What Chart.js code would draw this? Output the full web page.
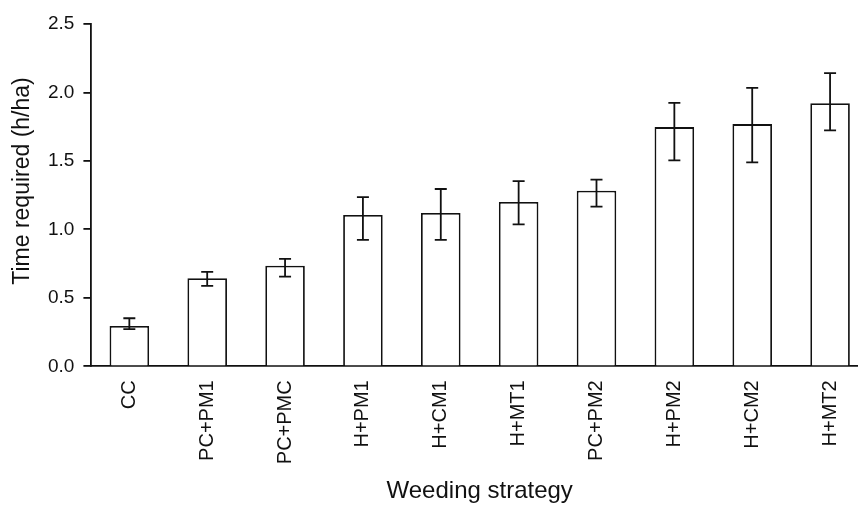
<!DOCTYPE html>
<html>
<head>
<meta charset="utf-8">
<script src="https://cdn.jsdelivr.net/npm/chart.js@4.4.1/dist/chart.umd.min.js"></script>
<style>
  html, body { margin: 0; padding: 0; background: #fff; overflow: hidden; width: 858px; height: 506px; }
  canvas { display: block; }
</style>
</head>
<body>
<canvas id="c" width="870" height="506"></canvas>
<script>
const categories = ["CC", "PC+PM1", "PC+PMC", "H+PM1", "H+CM1", "H+MT1", "PC+PM2", "H+PM2", "H+CM2", "H+MT2"];
const timeRequired = [0.295, 0.643, 0.735, 1.105, 1.120, 1.200, 1.282, 1.747, 1.769, 1.922];
const errorHigh = [0.351, 0.689, 0.784, 1.236, 1.295, 1.353, 1.363, 1.924, 2.034, 2.141];
const errorLow = [0.271, 0.587, 0.655, 0.923, 0.923, 1.037, 1.166, 1.504, 1.489, 1.723];
const yTicks = [0, 0.5, 1.0, 1.5, 2.0, 2.5];
const yTitle = 'Time required (h/ha)';
const xTitle = 'Weeding strategy';

const FONT = "'Liberation Sans', Arial, Helvetica, sans-serif";
const INK = '#111';

const errorBars = {
  id: 'errorBars',
  afterDatasetsDraw(chart) {
    const ctx = chart.ctx;
    const meta = chart.getDatasetMeta(0);
    const y = chart.scales.y;
    ctx.save();
    ctx.strokeStyle = INK;
    ctx.lineWidth = 1.8;
    meta.data.forEach((bar, i) => {
      const x = bar.x;
      const yh = y.getPixelForValue(errorHigh[i]);
      const yl = y.getPixelForValue(errorLow[i]);
      const cap = 6;
      ctx.beginPath();
      ctx.moveTo(x, yh); ctx.lineTo(x, yl);
      ctx.moveTo(x - cap, yh); ctx.lineTo(x + cap, yh);
      ctx.moveTo(x - cap, yl); ctx.lineTo(x + cap, yl);
      ctx.stroke();
    });
    ctx.restore();
  }
};

const yAxisTitle = {
  id: 'yAxisTitle',
  afterDraw(chart) {
    const ctx = chart.ctx;
    ctx.save();
    ctx.fillStyle = INK;
    ctx.font = "23px " + FONT;
    ctx.textAlign = 'center';
    ctx.textBaseline = 'middle';
    ctx.translate(23, 181);
    ctx.rotate(-Math.PI / 2);
    ctx.fillText(yTitle, 0, 0);
    ctx.restore();
  }
};

new Chart(document.getElementById('c'), {
  type: 'bar',
  data: {
    labels: categories,
    datasets: [{
      data: timeRequired,
      backgroundColor: '#ffffff',
      borderColor: INK,
      borderWidth: 1.8,
      barPercentage: 0.508,
      categoryPercentage: 1.0
    }]
  },
  options: {
    responsive: false,
    animation: false,
    devicePixelRatio: 1,
    layout: { padding: { top: 24, right: 1, bottom: 0, left: 39 } },
    plugins: { legend: { display: false }, tooltip: { enabled: false } },
    scales: {
      x: {
        offset: true,
        grid: { display: false },
        border: { display: true, color: INK, width: 1.8 },
        ticks: {
          autoSkip: false, maxRotation: 90, minRotation: 90,
          color: INK, padding: 6,
          font: { family: FONT, size: 20 }
        },
        title: {
          display: true, text: xTitle, color: INK,
          font: { family: FONT, size: 24 }, padding: { top: 7, bottom: 0 }
        }
      },
      y: {
        min: 0, max: 2.5,
        afterBuildTicks(scale) { scale.ticks = yTicks.map(v => ({ value: v })); },
        grid: { drawOnChartArea: false, drawTicks: true, tickLength: 7, color: INK, lineWidth: 1.8 },
        border: { display: true, color: INK, width: 1.8 },
        ticks: {
          color: INK, padding: 9,
          font: { family: FONT, size: 19 },
          callback: (v) => Number(v).toFixed(1)
        }
      }
    }
  },
  plugins: [errorBars, yAxisTitle]
});
</script>
</body>
</html>
